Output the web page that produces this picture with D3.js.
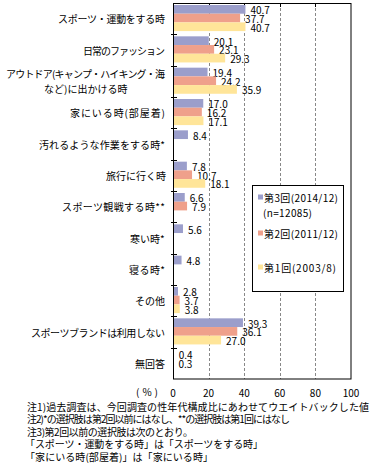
<!DOCTYPE html>
<html><head><meta charset="utf-8">
<script src="https://cdn.jsdelivr.net/npm/d3@7"></script>
<style>
html,body{margin:0;padding:0;background:#fff;}
svg{display:block;font-family:"Noto Sans CJK JP","Noto Sans",sans-serif;}
</style></head>
<body>
<script>
const categories = [
  ["スポーツ・運動をする時"],
  ["日常のファッション"],
  ["アウトドア(キャンプ・ハイキング・海", "など)に出かける時"],
  ["家にいる時(部屋着)"],
  ["汚れるような作業をする時*"],
  ["旅行に行く時"],
  ["スポーツ観戦する時**"],
  ["寒い時*"],
  ["寝る時*"],
  ["その他"],
  ["スポーツブランドは利用しない"],
  ["無回答"]
];
const seriesNames = ["第3回(2014/12)", "第2回(2011/12)", "第1回(2003/8)"];
const seriesSub = ["(n=12085)", "", ""];
const colors = ["#9b9ecb", "#efa08b", "#ffe599"];
const round3 = [40.7, 20.1, 19.4, 17.0, 8.4, 7.8, 6.6, 5.6, 4.8, 2.8, 39.3, 0.4];
const round2 = [37.7, 23.1, 24.2, 16.2, null, 10.7, 7.9, null, null, 3.7, 36.1, 0.3];
const round1 = [40.7, 29.3, 35.9, 17.1, null, 18.1, null, null, null, 3.8, 27.0, null];
const xTicks = [0, 20, 40, 60, 80, 100];
const notes = [
  "注1)過去調査は、今回調査の性年代構成比にあわせてウエイトバックした値",
  "注2)*の選択肢は第2回以前にはなし、**の選択肢は第1回にはなし",
  "注3)第2回以前の選択肢は次のとおり。",
  "「スポーツ・運動をする時」は「スポーツをする時」",
  "「家にいる時(部屋着)」は「家にいる時」"
];

const W = 379, H = 474;
const FS = 10;
const svg = d3.select("body").append("svg").attr("width", W).attr("height", H);
const x = d3.scaleLinear().domain([0, 100]).range([173, 351]);
const y = d3.scaleBand().domain(d3.range(categories.length)).range([3, 379]).padding(0);
const bh = 8.7, boff = 2;
const series = [round3, round2, round1];

// fit a text element to a target width by adjusting letter spacing
function fit(t, w) {
  const n = t.node();
  const cur = n.getComputedTextLength();
  if (Math.abs(cur - w) > 1) t.attr("textLength", w).attr("lengthAdjust", "spacing");
  return t;
}

// grid
const inner = xTicks.filter(t => t > 0 && t < 100);
svg.append("g").selectAll("line").data(inner).join("line")
  .attr("x1", d => Math.round(x(d)) + 0.5).attr("x2", d => Math.round(x(d)) + 0.5)
  .attr("y1", 3).attr("y2", 379)
  .attr("stroke", "#888").attr("stroke-dasharray", "3,2").attr("stroke-width", 1);
svg.append("g").selectAll("line").data(inner).join("line")
  .attr("x1", d => Math.round(x(d)) + 0.5).attr("x2", d => Math.round(x(d)) + 0.5)
  .attr("y1", 3).attr("y2", 7).attr("stroke", "#000");

// bars
series.forEach((vals, si) => {
  const data = vals.map((v, i) => ({v, i})).filter(d => d.v != null);
  svg.append("g").selectAll("rect").data(data).join("rect")
    .attr("x", x(0)).attr("y", d => y(d.i) + boff + si * bh)
    .attr("width", d => x(d.v) - x(0)).attr("height", bh)
    .attr("fill", colors[si]);
  svg.append("g").selectAll("text").data(data).join("text")
    .attr("x", d => x(d.v) + 5).attr("y", d => y(d.i) + boff + si * bh + bh / 2 + 0.5)
    .attr("dominant-baseline", "central").attr("font-size", FS).attr("fill", "#000")
    .text(d => d.v.toFixed(1));
});

// frame
svg.append("rect").attr("x", 173.5).attr("y", 3.5).attr("width", 351 - 173.5).attr("height", 379 - 3.5)
  .attr("fill", "none").attr("stroke", "#000");
svg.append("g").selectAll("line").data(d3.range(1, categories.length)).join("line")
  .attr("x1", 171).attr("x2", 177)
  .attr("y1", d => Math.round(y(d)) + 0.5).attr("y2", d => Math.round(y(d)) + 0.5)
  .attr("stroke", "#000");

// category labels (widths)
const labelW = [[107], [82], [159, 83], [95], [126], [59], [103], [35], [36], [30], [134], [30]];
categories.forEach((lines, i) => {
  const cy = y(i) + y.bandwidth() / 2;
  if (lines.length === 1) {
    const w = labelW[i][0];
    fit(svg.append("text").attr("x", 165 - w).attr("y", cy).attr("dominant-baseline", "central")
      .attr("font-size", FS).text(lines[0]), w);
  } else {
    const w1 = labelW[i][0], w2 = labelW[i][1];
    const c = 165 - w1 / 2;
    fit(svg.append("text").attr("x", 165 - w1).attr("y", cy - 7.5).attr("dominant-baseline", "central")
      .attr("font-size", FS).text(lines[0]), w1);
    fit(svg.append("text").attr("x", c - w2 / 2).attr("y", cy + 7.5).attr("dominant-baseline", "central")
      .attr("font-size", FS).text(lines[1]), w2);
  }
});

// x axis labels
svg.append("g").selectAll("text").data(xTicks).join("text")
  .attr("x", d => x(d)).attr("y", 392.5).attr("text-anchor", "middle")
  .attr("dominant-baseline", "central").attr("font-size", FS).text(d => d);
fit(svg.append("text").attr("x", 136).attr("y", 391.5)
  .attr("dominant-baseline", "central").attr("font-size", FS).text("(%)"), 22);

// legend
svg.append("rect").attr("x", 252.5).attr("y", 185.5).attr("width", 91).attr("height", 106)
  .attr("fill", "#fff").attr("stroke", "#000");
const legY = [197, 233, 267];
const legW = [74, 74, 72];
seriesNames.forEach((name, i) => {
  svg.append("rect").attr("x", 258).attr("y", legY[i] - 2.5).attr("width", 5).attr("height", 5).attr("fill", colors[i]);
  fit(svg.append("text").attr("x", 264).attr("y", legY[i]).attr("dominant-baseline", "central")
    .attr("font-size", FS).text(name), legW[i]);
  if (seriesSub[i]) {
    fit(svg.append("text").attr("x", 263).attr("y", legY[i] + 15).attr("dominant-baseline", "central")
      .attr("font-size", FS).text(seriesSub[i]), 49);
  }
});

// notes
const noteX = [27, 27, 27, 25, 25];
const noteW = [342, 263, 166, 238, 188];
notes.forEach((n, i) => {
  fit(svg.append("text").attr("x", noteX[i]).attr("y", 406 + i * 12.5)
    .attr("dominant-baseline", "central").attr("font-size", FS).text(n), noteW[i]);
});
</script>
</body></html>
